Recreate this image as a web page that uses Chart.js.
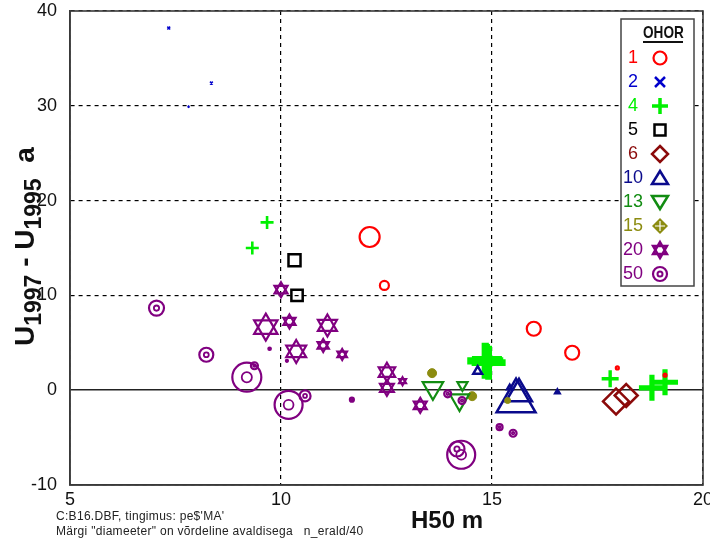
<!DOCTYPE html>
<html>
<head>
<meta charset="utf-8">
<script src="https://cdn.jsdelivr.net/npm/chart.js@4/dist/chart.umd.min.js"></script>
<style>
    html, body { margin: 0; padding: 0; background: #fff; }
    canvas { display: block; }
</style>
</head>
<body>
<canvas id="graficoOhor" width="710" height="540"></canvas>
<script>
// [H50, U1997 - U1995, n_erald] per stand type (OHOR)
const ohor1 = [[12.10, 16.16, 200], [12.45, 11.05, 90], [15.99, 6.48, 140], [16.90, 3.95, 140], [17.97, 2.35, 30], [19.10, 1.58, 30]];
const ohor2 = [[7.34, 38.2, 40], [8.35, 32.4, 40], [7.81, 29.9, 25]];
const ohor4 = [[9.67, 17.7, 130], [9.32, 15.0, 130], [14.84, 3.1, 360], [14.92, 2.9, 340], [14.88, 3.3, 300], [17.80, 1.2, 170], [18.79, 0.25, 260], [19.10, 0.84, 260]];
const ohor5 = [[10.32, 13.7, 170], [10.38, 10.0, 160]];
const ohor6 = [[17.94, -1.19, 260], [18.18, -0.56, 230]];
const ohor10 = [[15.57, -1.14, 450], [15.64, -0.38, 300], [14.66, 2.0, 100], [15.42, 0.25, 60], [16.55, -0.2, 50]];
const ohor13 = [[13.60, 0.22, 236], [14.30, 0.54, 116], [14.23, -1.03, 220]];
const ohor15 = [[13.58, 1.8, 90], [14.53, -0.63, 90], [15.37, -1.09, 60]];
const ohor20 = [[10.0, 10.6, 150], [9.64, 6.65, 270], [10.2, 7.25, 140], [11.1, 6.83, 220], [10.36, 4.09, 230], [11.0, 4.72, 130], [11.45, 3.77, 110], [12.51, 1.9, 190], [12.51, 0.25, 160], [13.3, -1.6, 150], [12.88, 0.95, 80]];
const ohor50 = [[7.05, 8.66, 150], [8.23, 3.74, 140], [9.19, 1.37, 290], [10.18, -1.54, 280], [10.57, -0.6, 110], [14.27, -6.81, 280], [14.17, -6.2, 150], [9.37, 2.58, 70], [9.73, 4.37, 25], [10.14, 3.1, 20], [13.95, -0.38, 70], [14.29, -1.09, 70], [15.18, -3.9, 60], [15.5, -4.54, 70], [11.68, -1.0, 40]];

const ohorCodes = ['1', '2', '4', '5', '6', '10', '13', '15', '20', '50'];
const xTicks = [5, 10, 15, 20];
const yTicks = [-10, 0, 10, 20, 30, 40];

const colors = {
    '1': '#ff0000', '2': '#0000cc', '4': '#00f000', '5': '#000000', '6': '#8b0a0a',
    '10': '#0a0a8c', '13': '#128c12', '15': '#8c8c10', '20': '#800080', '50': '#800080'
};

const FONT = 'Arial, "Liberation Sans", sans-serif';

function toPoints(rows) {
    return rows.map(([x, y, n]) => ({ x, y, n }));
}

// marker diameter follows n_erald / 40
const markerRadius = ctx => ctx.raw ? ctx.raw.n / 20 : 0;

function markerSet(rows, code, style, extra) {
    return Object.assign({
        data: toPoints(rows),
        pointStyle: style,
        pointRadius: markerRadius,
        pointBorderColor: colors[code],
        pointBackgroundColor: 'rgba(0,0,0,0)',
        pointBorderWidth: 2.2,
        showLine: false
    }, extra || {});
}

function buildDatasets() {
    return [
        markerSet(ohor50, '50', 'circle'),
        markerSet(ohor50, '50', 'circle', { pointRadius: ctx => Math.max(0.8, ctx.raw.n / 20 * 0.35), pointBorderWidth: 1.8 }),
        markerSet(ohor20, '20', 'triangle'),
        markerSet(ohor20, '20', 'triangle', { pointRotation: 180 }),
        markerSet(ohor1, '1', 'circle'),
        markerSet(ohor2, '2', 'crossRot', { pointBorderWidth: 1.5 }),
        markerSet(ohor5, '5', 'rect', { pointBorderWidth: 2.5 }),
        markerSet(ohor6, '6', 'rectRot', { pointBorderWidth: 2.5 }),
        markerSet(ohor13, '13', 'triangle', { pointRotation: 180 }),
        markerSet(ohor15, '15', 'circle', { pointBackgroundColor: colors['15'], pointBorderWidth: 1 }),
        markerSet(ohor10, '10', 'triangle', { pointBorderWidth: 2.5 }),
        markerSet(ohor4, '4', 'cross', { pointBorderWidth: ctx => Math.max(2.5, ctx.raw.n / 20 * 0.4) })
    ];
}

// keep tick labels from pushing the plot area inwards
function noOverhang(scale) {
    scale.paddingLeft = 0;
    scale.paddingRight = 0;
    scale.paddingTop = 0;
    scale.paddingBottom = 0;
}

function drawSymbol(ctx, code, x, y) {
    const c = colors[code];
    ctx.save();
    ctx.strokeStyle = c;
    ctx.fillStyle = c;
    ctx.lineWidth = 2.2;
    ctx.beginPath();
    if (code === '1') {
        ctx.arc(x, y, 6.5, 0, Math.PI * 2);
        ctx.stroke();
    } else if (code === '2') {
        ctx.lineWidth = 2.5;
        ctx.moveTo(x - 5, y - 5); ctx.lineTo(x + 5, y + 5);
        ctx.moveTo(x + 5, y - 5); ctx.lineTo(x - 5, y + 5);
        ctx.stroke();
    } else if (code === '4') {
        ctx.lineWidth = 3.5;
        ctx.moveTo(x - 8, y); ctx.lineTo(x + 8, y);
        ctx.moveTo(x, y - 8); ctx.lineTo(x, y + 8);
        ctx.stroke();
    } else if (code === '5') {
        ctx.lineWidth = 2.5;
        ctx.rect(x - 5.5, y - 5.5, 11, 11);
        ctx.stroke();
    } else if (code === '6') {
        ctx.lineWidth = 2.5;
        ctx.moveTo(x, y - 8); ctx.lineTo(x + 8, y); ctx.lineTo(x, y + 8); ctx.lineTo(x - 8, y);
        ctx.closePath();
        ctx.stroke();
    } else if (code === '10') {
        ctx.lineWidth = 2.5;
        ctx.moveTo(x, y - 7); ctx.lineTo(x + 8, y + 6); ctx.lineTo(x - 8, y + 6);
        ctx.closePath();
        ctx.stroke();
    } else if (code === '13') {
        ctx.lineWidth = 2.5;
        ctx.moveTo(x - 8, y - 6); ctx.lineTo(x + 8, y - 6); ctx.lineTo(x, y + 7);
        ctx.closePath();
        ctx.stroke();
    } else if (code === '15') {
        ctx.moveTo(x, y - 8); ctx.lineTo(x + 8, y); ctx.lineTo(x, y + 8); ctx.lineTo(x - 8, y);
        ctx.closePath();
        ctx.fill();
        ctx.beginPath();
        ctx.strokeStyle = '#fff';
        ctx.lineWidth = 1.2;
        ctx.moveTo(x - 5, y); ctx.lineTo(x + 5, y);
        ctx.moveTo(x, y - 5); ctx.lineTo(x, y + 5);
        ctx.stroke();
    } else if (code === '20') {
        const r = 8;
        for (const s of [1, -1]) {
            ctx.moveTo(x, y - s * r);
            ctx.lineTo(x + r * 0.866, y + s * r / 2);
            ctx.lineTo(x - r * 0.866, y + s * r / 2);
            ctx.closePath();
        }
        ctx.lineWidth = 2.5;
        ctx.stroke();
    } else if (code === '50') {
        ctx.arc(x, y, 7, 0, Math.PI * 2);
        ctx.stroke();
        ctx.beginPath();
        ctx.lineWidth = 2;
        ctx.arc(x, y, 2.5, 0, Math.PI * 2);
        ctx.stroke();
    }
    ctx.restore();
}

const decorations = {
    id: 'decorations',
    afterDraw(chart) {
        const { ctx, chartArea: a } = chart;
        ctx.save();

        // plot frame
        ctx.strokeStyle = '#3a3a3a';
        ctx.lineWidth = 1.6;
        ctx.strokeRect(a.left, a.top, a.right - a.left, a.bottom - a.top);

        // legend box
        const lx = 621, ly = 19, lw = 73, lh = 267;
        ctx.fillStyle = '#fff';
        ctx.fillRect(lx, ly, lw, lh);
        ctx.strokeStyle = '#444';
        ctx.lineWidth = 1.5;
        ctx.strokeRect(lx, ly, lw, lh);

        ctx.save();
        ctx.fillStyle = '#111';
        ctx.translate(643, 38);
        ctx.scale(0.8, 1);
        ctx.font = 'bold 17px ' + FONT;
        ctx.textAlign = 'left';
        ctx.textBaseline = 'alphabetic';
        ctx.fillText('OHOR', 0, 0);
        ctx.restore();
        ctx.fillStyle = '#111';
        ctx.fillRect(643, 41, 40, 2);

        ctx.font = '18px ' + FONT;
        ctx.textAlign = 'center';
        ctx.textBaseline = 'middle';
        ohorCodes.forEach((code, i) => {
            const y = 58 + i * 24;
            ctx.fillStyle = colors[code];
            ctx.fillText(code, 633, y);
            drawSymbol(ctx, code, 660, y);
        });

        // axis titles
        ctx.fillStyle = '#111';
        ctx.textAlign = 'left';
        ctx.textBaseline = 'alphabetic';
        ctx.font = 'bold 24px ' + FONT;
        ctx.fillText('H50 m', 411, 528);

        ctx.save();
        ctx.translate(34, 346);
        ctx.rotate(-Math.PI / 2);
        const parts = [
            ['U', 28, 0], ['1997', 23, 7], [' - ', 28, 0], ['U', 28, 0], ['1995', 23, 7], ['  a', 28, 0]
        ];
        let px = 0;
        parts.forEach(([t, size, shift]) => {
            ctx.font = 'bold ' + size + 'px ' + FONT;
            ctx.fillText(t, px, shift);
            px += ctx.measureText(t).width;
        });
        ctx.restore();

        // footnotes
        ctx.font = '12px ' + FONT;
        ctx.letterSpacing = '0.3px';
        ctx.fillStyle = '#222';
        ctx.fillText("C:B16.DBF, tingimus: pe$'MA'", 56, 520);
        ctx.fillText('Märgi "diameeter" on võrdeline avaldisega   n_erald/40', 56, 535);

        ctx.restore();
    }
};

function renderGrafico() {
    const canvas = document.getElementById('graficoOhor');

    new Chart(canvas, {
        type: 'scatter',
        data: { datasets: buildDatasets() },
        options: {
            responsive: false,
            animation: false,
            devicePixelRatio: 1,
            events: [],
            layout: {
                autoPadding: false,
                padding: { top: 11, right: 7, left: 0, bottom: 0 }
            },
            plugins: {
                legend: { display: false },
                tooltip: { enabled: false }
            },
            scales: {
                x: {
                    type: 'linear',
                    min: xTicks[0],
                    max: xTicks[xTicks.length - 1],
                    afterBuildTicks: s => { s.ticks = xTicks.map(v => ({ value: v })); },
                    afterFit: s => {
                        s.height = 55;
                        noOverhang(s);
                    },
                    ticks: {
                        padding: 4,
                        color: '#111',
                        font: { family: FONT, size: 18 }
                    },
                    grid: { color: '#000', lineWidth: 1.2, drawTicks: false },
                    border: { display: true, color: '#3a3a3a', width: 1.6, dash: [4, 4] }
                },
                y: {
                    type: 'linear',
                    min: yTicks[0],
                    max: yTicks[yTicks.length - 1],
                    afterBuildTicks: s => { s.ticks = yTicks.map(v => ({ value: v })); },
                    afterFit: s => {
                        s.width = 70;
                        noOverhang(s);
                    },
                    ticks: {
                        padding: 13,
                        color: '#111',
                        font: { family: FONT, size: 18 }
                    },
                    grid: {
                        color: ctx => (ctx.tick && ctx.tick.value === 0) ? '#222' : '#000',
                        lineWidth: ctx => (ctx.tick && ctx.tick.value === 0) ? 1.6 : 1.2,
                        drawTicks: false
                    },
                    border: {
                        display: true,
                        color: '#3a3a3a',
                        width: 1.6,
                        dash: ctx => (ctx.tick && ctx.tick.value === 0) ? [] : [4, 4]
                    }
                }
            }
        },
        plugins: [decorations]
    });
}

document.addEventListener('DOMContentLoaded', () => {
    renderGrafico();
});
</script>
</body>
</html>
